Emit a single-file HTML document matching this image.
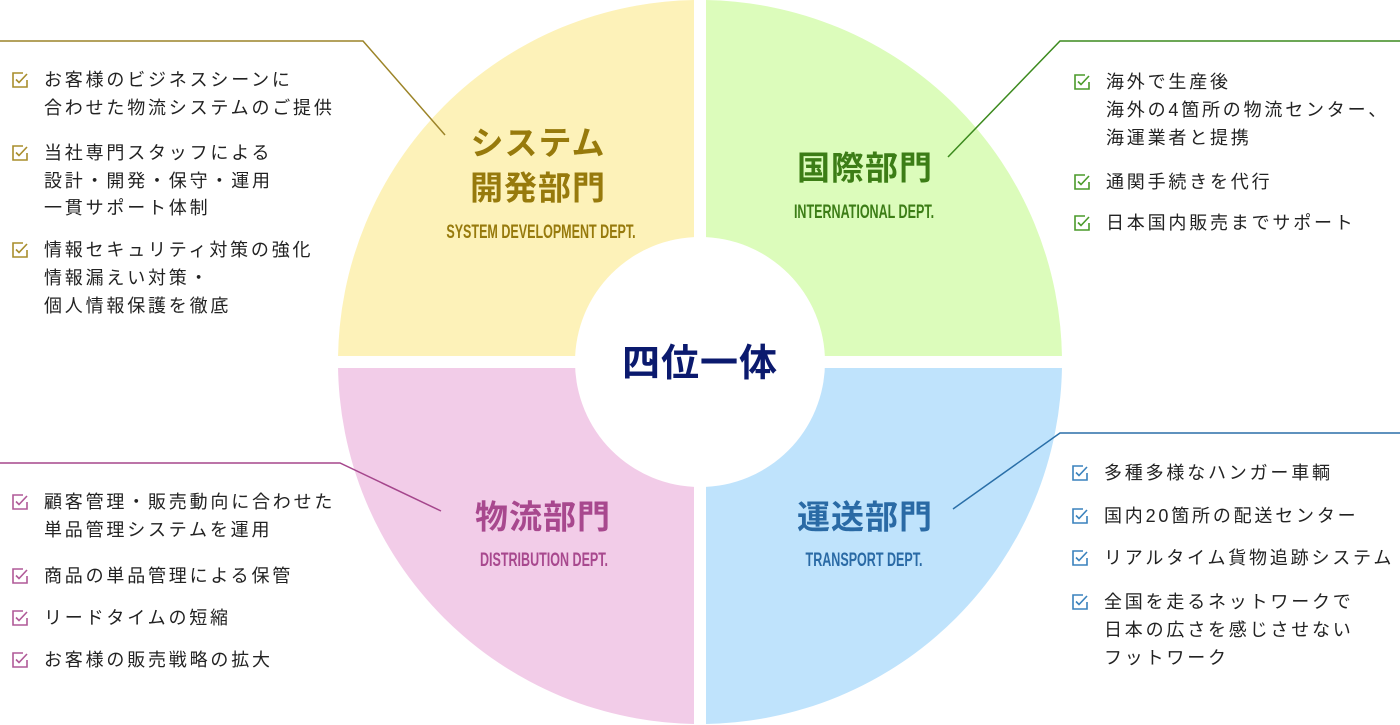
<!DOCTYPE html>
<html><head><meta charset="utf-8"><style>
html,body{margin:0;padding:0;background:#fff;width:1400px;height:725px;overflow:hidden}
svg text{font-family:"Liberation Sans","Noto Sans CJK JP",sans-serif}
.t{font-size:18px;letter-spacing:2.8px;fill:#222;dominant-baseline:central}
.h{font-weight:bold;font-size:33px;text-anchor:middle;dominant-baseline:central;letter-spacing:1px}
.e{font-size:19px;font-weight:bold;text-anchor:middle;dominant-baseline:central}
</style></head><body>
<svg width="1400" height="725" viewBox="0 0 1400 725" xmlns="http://www.w3.org/2000/svg">
<defs>
<clipPath id="tl"><rect x="0" y="0" width="694" height="356"/></clipPath>
<clipPath id="tr"><rect x="706" y="0" width="700" height="356"/></clipPath>
<clipPath id="bl"><rect x="0" y="368" width="694" height="400"/></clipPath>
<clipPath id="br"><rect x="706" y="368" width="700" height="400"/></clipPath>
<g id="cb"><path d="M11 0 H1 V14 H15 V7" fill="none" stroke-width="1.6"/><path d="M4 6.5 L7 9.5 L15 1" fill="none" stroke-width="1.6"/></g>
</defs>
<circle cx="700" cy="362" r="362" fill="#fdf2b9" clip-path="url(#tl)"/>
<circle cx="700" cy="362" r="362" fill="#dcfcbb" clip-path="url(#tr)"/>
<circle cx="700" cy="362" r="362" fill="#f2cce8" clip-path="url(#bl)"/>
<circle cx="700" cy="362" r="362" fill="#bfe3fc" clip-path="url(#br)"/>
<circle cx="700" cy="362" r="125" fill="#fff"/>

<text x="700" y="364" class="h" style="fill:#0b1a6e;font-size:38px">四位一体</text>

<text x="538" y="143" class="h" fill="#977a0c">システム</text>
<text x="538" y="188" class="h" fill="#977a0c">開発部門</text>
<text class="e" fill="#977a0c" transform="translate(541,232) scale(0.66,1)">SYSTEM DEVELOPMENT DEPT.</text>

<text x="865" y="168" class="h" fill="#3c7d16">国際部門</text>
<text class="e" fill="#3c7d16" transform="translate(864,212) scale(0.66,1)">INTERNATIONAL DEPT.</text>

<text x="543" y="517" class="h" fill="#a8488e">物流部門</text>
<text class="e" fill="#a8488e" transform="translate(544,560) scale(0.66,1)">DISTRIBUTION DEPT.</text>

<text x="865" y="517" class="h" fill="#2a6aa5">運送部門</text>
<text class="e" fill="#2a6aa5" transform="translate(864,560) scale(0.66,1)">TRANSPORT DEPT.</text>

<polyline points="0,41 363,41 445,135" fill="none" stroke="#9c8428" stroke-width="1.5"/>
<polyline points="1400,41 1060,41 948,157" fill="none" stroke="#3c8a1e" stroke-width="1.5"/>
<polyline points="0,463 340,463 441,511" fill="none" stroke="#a5468c" stroke-width="1.5"/>
<polyline points="1400,433 1060,433 953,509" fill="none" stroke="#2a6fa8" stroke-width="1.5"/>

<g stroke="#a88d2c">
<use href="#cb" x="12" y="73"/><use href="#cb" x="12" y="146"/><use href="#cb" x="12" y="243"/>
</g>
<text x="44" y="80" class="t">お客様のビジネスシーンに</text>
<text x="44" y="108" class="t">合わせた物流システムのご提供</text>
<text x="44" y="153" class="t">当社専門スタッフによる</text>
<text x="44" y="181" class="t">設計・開発・保守・運用</text>
<text x="44" y="208" class="t">一貫サポート体制</text>
<text x="44" y="250" class="t">情報セキュリティ対策の強化</text>
<text x="44" y="278" class="t">情報漏えい対策・</text>
<text x="44" y="306" class="t">個人情報保護を徹底</text>

<g stroke="#4a9a2a">
<use href="#cb" x="1074" y="75"/><use href="#cb" x="1074" y="175"/><use href="#cb" x="1074" y="216"/>
</g>
<text x="1106" y="82" class="t">海外で生産後</text>
<text x="1106" y="110" class="t">海外の4箇所の物流センター、</text>
<text x="1106" y="138" class="t">海運業者と提携</text>
<text x="1106" y="182" class="t">通関手続きを代行</text>
<text x="1106" y="223" class="t">日本国内販売までサポート</text>

<g stroke="#3a82bd">
<use href="#cb" x="1072" y="466"/><use href="#cb" x="1072" y="509"/><use href="#cb" x="1072" y="551"/><use href="#cb" x="1072" y="595"/>
</g>
<text x="1104" y="473" class="t">多種多様なハンガー車輌</text>
<text x="1104" y="516" class="t">国内20箇所の配送センター</text>
<text x="1104" y="558" class="t">リアルタイム貨物追跡システム</text>
<text x="1104" y="602" class="t">全国を走るネットワークで</text>
<text x="1104" y="630" class="t">日本の広さを感じさせない</text>
<text x="1104" y="658" class="t">フットワーク</text>

<g stroke="#b05a98">
<use href="#cb" x="12" y="495"/><use href="#cb" x="12" y="569"/><use href="#cb" x="12" y="611"/><use href="#cb" x="12" y="653"/>
</g>
<text x="44" y="502" class="t">顧客管理・販売動向に合わせた</text>
<text x="44" y="530" class="t">単品管理システムを運用</text>
<text x="44" y="576" class="t">商品の単品管理による保管</text>
<text x="44" y="618" class="t">リードタイムの短縮</text>
<text x="44" y="660" class="t">お客様の販売戦略の拡大</text>
</svg>
</body></html>
